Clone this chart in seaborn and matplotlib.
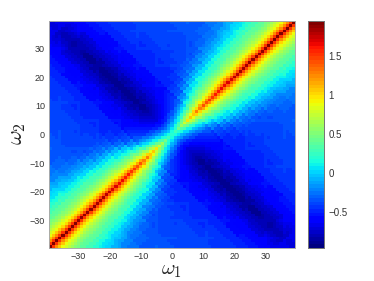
import numpy as np
import matplotlib
matplotlib.use("Agg")
import matplotlib.pyplot as plt
import seaborn as sns

# axis values and tick labels
omega = np.arange(-39, 40)
xticks = [-30, -20, -10, 0, 10, 20, 30]
yticks = [-30, -20, -10, 0, 10, 20, 30]
cbar_ticks = [-0.5, 0, 0.5, 1, 1.5]
cbar_labels = ["\u22120.5", "0", "0.5", "1", "1.5"]
vmin, vmax = -0.96, 1.95

# values: columns are |w1-w2|, rows are |w1+w2|/2
offsets = [0, 1, 2, 3, 4, 5, 6, 7, 8, 9, 10, 12, 14, 16, 18, 20, 23, 26, 30, 35, 40, 46, 52, 60, 68, 76]
along = [0, 1, 2, 3, 4, 5, 6, 8, 10, 12, 14, 16, 18, 20, 23, 26, 29, 32, 35, 38]
a00 = [.2, .15, -.02, -.14, -.25, -.35, -.45, -.52, -.58, -.64, -.7, -.77, -.82, -.85, -.87, -.88, -.89, -.9, -.9, -.9, -.89, -.88, -.87, -.84, -.78, -.7]
a01 = [.3, .22, .05, -.07, -.18, -.29, -.39, -.47, -.54, -.6, -.65, -.72, -.77, -.8, -.82, -.83, -.84, -.84, -.84, -.84, -.84, -.83, -.82, -.8, -.75, -.68]
a02 = [.45, .33, .16, .02, -.1, -.22, -.32, -.4, -.47, -.53, -.59, -.66, -.71, -.74, -.76, -.77, -.78, -.78, -.78, -.78, -.78, -.77, -.76, -.74, -.7, -.66]
a03 = [.62, .48, .28, .13, 0, -.13, -.24, -.33, -.41, -.48, -.53, -.6, -.65, -.68, -.7, -.71, -.72, -.72, -.72, -.72, -.72, -.71, -.7, -.69, -.66, -.64]
a04 = [.8, .62, .42, .25, .1, -.03, -.15, -.25, -.34, -.42, -.48, -.55, -.6, -.63, -.65, -.66, -.66, -.66, -.66, -.66, -.66, -.65, -.64, -.63, -.62, -.61]
a05 = [.95, .76, .55, .37, .21, .07, -.06, -.17, -.27, -.35, -.42, -.5, -.55, -.58, -.6, -.61, -.61, -.61, -.61, -.61, -.61, -.6, -.6, -.59, -.58, -.58]
a06 = [1.08, .88, .66, .47, .31, .17, .04, -.08, -.19, -.28, -.36, -.45, -.5, -.54, -.56, -.57, -.57, -.57, -.57, -.57, -.57, -.56, -.56, -.55, -.55, -.55]
a08 = [1.28, 1.02, .8, .62, .47, .33, .21, .09, -.02, -.12, -.22, -.34, -.41, -.45, -.48, -.5, -.5, -.5, -.5, -.5, -.5, -.49, -.49, -.49, -.49, -.49]
a10 = [1.42, 1.14, .92, .74, .6, .47, .36, .25, .15, .05, -.05, -.2, -.31, -.38, -.42, -.45, -.46, -.46, -.46, -.46, -.46, -.45, -.45, -.45, -.45, -.45]
a12 = [1.52, 1.24, 1.0, .83, .69, .57, .46, .36, .26, .17, .08, -.08, -.21, -.3, -.36, -.41, -.43, -.44, -.44, -.44, -.43, -.43, -.43, -.43, -.43, -.43]
a14 = [1.6, 1.3, 1.06, .88, .74, .63, .52, .42, .33, .24, .16, .0, -.13, -.24, -.31, -.36, -.4, -.41, -.42, -.41, -.41, -.41, -.41, -.41, -.41, -.41]
a16 = [1.66, 1.35, 1.1, .92, .78, .66, .55, .45, .36, .27, .19, .05, -.08, -.19, -.27, -.33, -.37, -.39, -.4, -.39, -.39, -.39, -.39, -.39, -.39, -.39]
a18 = [1.72, 1.4, 1.14, .96, .81, .69, .58, .48, .4, .31, .23, .1, -.03, -.14, -.23, -.3, -.35, -.37, -.37, -.37, -.37, -.37, -.37, -.37, -.37, -.37]
a20 = [1.77, 1.43, 1.17, .98, .83, .71, .6, .51, .43, .35, .27, .14, .02, -.09, -.18, -.25, -.32, -.35, -.35, -.35, -.35, -.35, -.35, -.35, -.35, -.35]
a23 = [1.83, 1.46, 1.19, 1.0, .85, .73, .63, .54, .46, .39, .32, .19, .08, -.03, -.12, -.2, -.27, -.31, -.33, -.33, -.33, -.33, -.33, -.33, -.33, -.33]
a26 = [1.87, 1.48, 1.21, 1.02, .87, .75, .65, .56, .48, .41, .35, .23, .12, .02, -.07, -.14, -.22, -.27, -.3, -.3, -.3, -.3, -.3, -.3, -.3, -.3]
a29 = [1.9, 1.5, 1.22, 1.03, .88, .76, .66, .57, .5, .43, .37, .26, .16, .08, 0, -.07, -.15, -.21, -.26, -.26, -.26, -.26, -.26, -.26, -.26, -.26]
a32 = [1.92, 1.51, 1.23, 1.04, .89, .77, .67, .58, .51, .44, .38, .28, .18, .1, .02, -.05, -.13, -.19, -.23, -.23, -.23, -.23, -.23, -.23, -.23, -.23]
a35 = [1.93, 1.52, 1.24, 1.05, .9, .78, .68, .59, .52, .45, .39, .29, .19, .11, .03, -.04, -.12, -.18, -.22, -.22, -.22, -.22, -.22, -.22, -.22, -.22]
a38 = [1.93, 1.52, 1.24, 1.05, .9, .78, .68, .59, .52, .45, .39, .29, .19, .11, .03, -.04, -.12, -.18, -.22, -.22, -.22, -.22, -.22, -.22, -.22, -.22]
table = np.array([a00, a01, a02, a03, a04, a05, a06, a08, a10, a12, a14, a16, a18, a20, a23, a26, a29, a32, a35, a38])

# the faint lighter rows and columns seen in the picture
light_lines = [-36, -30, -24, -17, -11, -5, 5, 11, 17, 24, 30, 36]
line_lift = 0.02

# pick the closest table entry for every cell
w1, w2 = np.meshgrid(omega, omega)
row = np.abs(np.abs(w1 + w2)[..., None] / 2 - np.array(along)).argmin(axis=-1)
col = np.abs(np.abs(w1 - w2)[..., None] - np.array(offsets)).argmin(axis=-1)
z = table[row, col]
z = z + line_lift * (np.isin(w1, light_lines) | np.isin(w2, light_lines)) * (np.abs(w1 - w2) > 12)

sns.set_style("white")
plt.rcParams['font.family'] = ['Liberation Sans', 'DejaVu Sans']
plt.rcParams['mathtext.fontset'] = 'cm'

fig = plt.figure(figsize=(3.74, 2.81), dpi=100)
ax = fig.add_axes([49/374, 1-248/281, 246/374, 227/281])
cax = fig.add_axes([307.5/374, 1-248/281, 17/374, 227/281])

sns.heatmap(z, ax=ax, cbar_ax=cax, cmap=plt.get_cmap('jet', 64), vmin=vmin, vmax=vmax,
            xticklabels=False, yticklabels=False)
ax.invert_yaxis()

# ticks through the heatmap's cell positions
ax.set_xticks([t + 39.5 for t in xticks])
ax.set_xticklabels([str(t).replace("-", "\u2212") for t in xticks], fontsize=6.5, color='#333333')
ax.set_yticks([t + 39.5 for t in yticks])
ax.set_yticklabels([str(t).replace("-", "\u2212") for t in yticks], fontsize=6.5, color='#333333', rotation=0)
ax.tick_params(length=0, pad=3)
for s in ax.spines.values():
    s.set_visible(True)
    s.set_color('#aaaaaa')
    s.set_linewidth(0.7)

ax.text(172/374, 1-271/281, r"$\omega_1$", transform=fig.transFigure, fontsize=15,
        ha='center', va='center', color='#222222')
ax.text(17/374, 1-134/281, r"$\omega_2$", transform=fig.transFigure, fontsize=16,
        rotation=90, ha='center', va='center', color='#222222')

cax.set_yticks(cbar_ticks)
cax.set_yticklabels(cbar_labels, fontsize=7, color='#333333')
cax.tick_params(axis='y', direction='in', length=2, width=0.5, color='#333333', right=True, left=True, pad=3)
for s in cax.spines.values():
    s.set_visible(True)
    s.set_color('#777777')
    s.set_linewidth(0.7)

fig.savefig("out.png", dpi=100)
